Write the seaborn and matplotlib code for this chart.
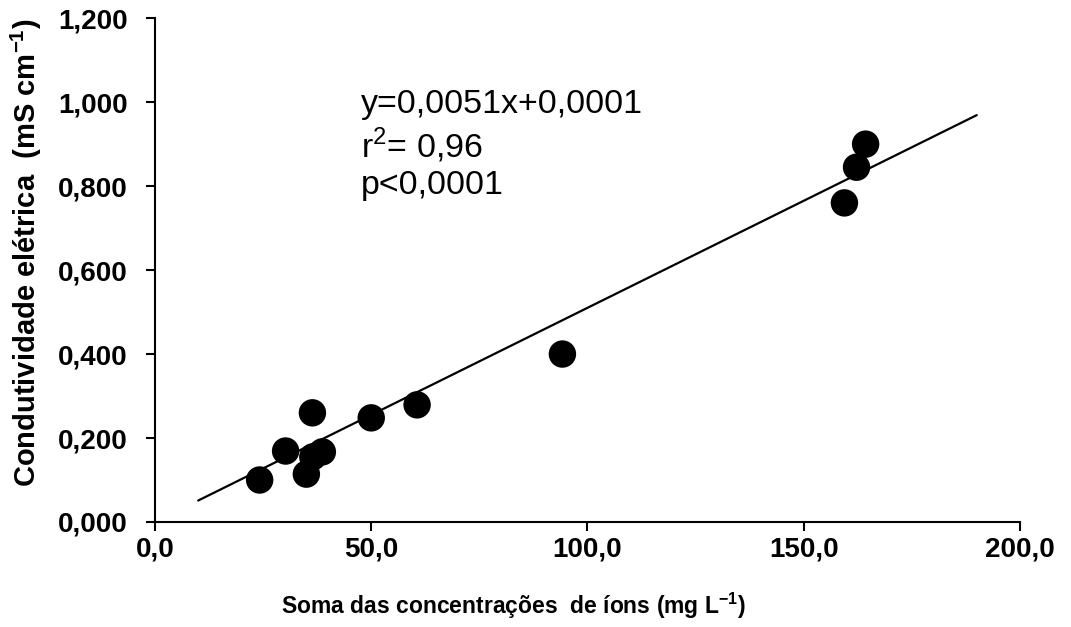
import numpy as np
import pandas as pd
import matplotlib
matplotlib.use("Agg")
import matplotlib.pyplot as plt
import seaborn as sns

# Data
ions = [24.2, 30.2, 36.4, 35.0, 36.5, 38.7, 50.0, 60.6, 94.2, 159.4, 162.2, 164.3]
conductivity = [0.100, 0.169, 0.260, 0.114, 0.155, 0.167, 0.248, 0.279, 0.400, 0.760, 0.845, 0.900]

fit_x = [10.0, 190.0]
slope = 0.0051
intercept = 0.0001

x_ticks = [0, 50, 100, 150, 200]
y_ticks = [0.0, 0.2, 0.4, 0.6, 0.8, 1.0, 1.2]

annotation_lines = ["y=0,0051x+0,0001", "r$^{2}$= 0,96", "p<0,0001"]


def main():
    sns.set_style("white")
    plt.rcParams["font.family"] = ["Liberation Sans", "DejaVu Sans"]
    plt.rcParams["mathtext.fontset"] = "custom"
    plt.rcParams["mathtext.rm"] = "Liberation Sans"
    plt.rcParams["mathtext.bf"] = "Liberation Sans:bold"
    plt.rcParams["text.color"] = "black"
    plt.rcParams["axes.labelcolor"] = "black"
    plt.rcParams["xtick.color"] = "black"
    plt.rcParams["ytick.color"] = "black"

    df = pd.DataFrame({"ions": ions, "ce": conductivity})
    line_df = pd.DataFrame({"x": fit_x})
    line_df["y"] = slope * line_df["x"] + intercept

    fig = plt.figure(figsize=(10.71, 6.27), dpi=100)
    ax = fig.add_axes([0.1447, 0.1675, 0.8077, 0.8035])

    sns.lineplot(data=line_df, x="x", y="y", ax=ax, color="black", linewidth=1.6)
    sns.scatterplot(data=df, x="ions", y="ce", ax=ax, color="black", s=390,
                    edgecolor="none", zorder=3)

    ax.set_xlim(0, 200)
    ax.set_ylim(0, 1.2)
    ax.set_xticks(x_ticks)
    ax.set_yticks(y_ticks)
    ax.set_xticklabels([f"{v:.1f}".replace(".", ",") for v in x_ticks],
                       fontsize=20, fontweight="bold")
    ax.set_yticklabels([f"{v:,.3f}".replace(".", ",") for v in y_ticks],
                       fontsize=20, fontweight="bold")

    ax.set_xlabel("Soma das concentrações  de íons (mg L$^{\\mathbf{-1}}$)",
                  fontsize=16.5, fontweight="bold")
    ax.set_ylabel("Condutividade elétrica  (mS cm$^{\\mathbf{-1}}$)",
                  fontsize=21, fontweight="bold")
    ax.xaxis.set_label_coords(0.414, -0.136)
    ax.yaxis.set_label_coords(-0.128, 0.534)

    for side in ["top", "right"]:
        ax.spines[side].set_visible(False)
    for side in ["left", "bottom"]:
        ax.spines[side].set_color("black")
        ax.spines[side].set_linewidth(1.5)
    ax.tick_params(direction="out", length=6.5, width=1.5, color="black",
                   left=True, bottom=True)
    ax.tick_params(axis="y", pad=13)
    ax.tick_params(axis="x", pad=4)

    # equation annotation
    for i, txt in enumerate(annotation_lines):
        ax.text(47.7, 0.995 - i * 0.097, txt, fontsize=24.5, va="center", ha="left")

    fig.savefig("out.png", dpi=100)
    plt.close(fig)


if __name__ == "__main__":
    main()
